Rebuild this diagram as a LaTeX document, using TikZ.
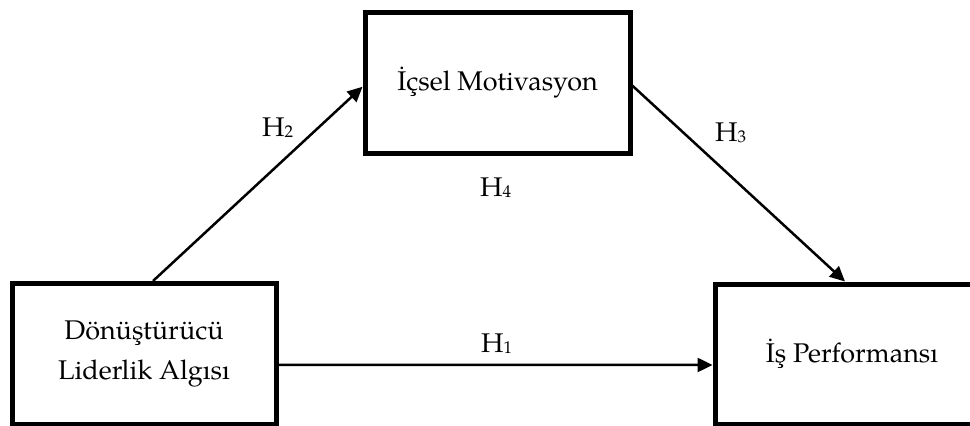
\documentclass[tikz,border=0pt]{standalone}
\usepackage{fontspec}
\setmainfont{texgyrepagella}[Extension=.otf,UprightFont=*-regular]
\usetikzlibrary{arrows.meta}

\tikzset{
  box/.style={draw, line width=5pt, rectangle, align=center,
    font=\fontsize{27}{40}\selectfont},
  link/.style={line width=2.5pt, -{Triangle[length=15pt,width=14pt]}},
  hyp/.style={anchor=base west, inner sep=0pt, font=\fontsize{27}{30}\selectfont},
}
\newcommand{\hsub}[1]{\raisebox{-1pt}{\fontsize{17}{17}\selectfont #1}}

\begin{document}
\begin{tikzpicture}[x=1pt, y=-1pt]
  \useasboundingbox (0,0) rectangle (970,426);
  \clip (0,0) rectangle (970,426);

  % constructs
  \node[box, minimum width=265pt, minimum height=140.5pt] (tb) at (497.5,82.75) {İçsel Motivasyon};
  \node[box, minimum width=264pt, minimum height=140.5pt] (lb) at (144,353.75) {Dönüştürücü\\Liderlik Algısı};
  \node[box, minimum width=274pt, minimum height=140pt] (rb) at (852,354) {İş Performansı};

  % hypothesised paths
  \draw[link] ([xshift=9pt]lb.north) -- ([yshift=-4pt]tb.west);
  \draw[link] ([yshift=-3pt]tb.east) -- ([xshift=-7pt]rb.north);
  \draw[link] ([yshift=-11pt]lb.east) -- ([yshift=-11pt]rb.west);

  % hypothesis labels
  \node[hyp] (h2) at (262,136) {H\hsub{2}};
  \node[hyp] (h3) at (715,141) {H\hsub{3}};
  \node[hyp] (h4) at (480,196) {H\hsub{4}};
  \node[hyp] (h1) at (481,352) {H\hsub{1}};
\end{tikzpicture}
\end{document}
